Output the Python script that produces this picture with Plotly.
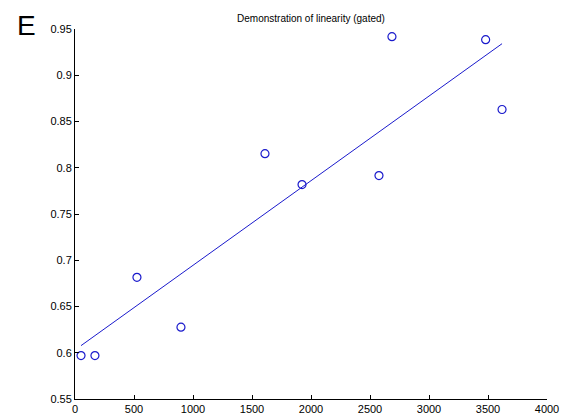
import numpy as np
import plotly.graph_objects as go

x_vals = [51, 169, 525, 898, 1610, 1924, 2576, 2686, 3480, 3619]
y_vals = [0.597, 0.597, 0.6815, 0.6276, 0.8152, 0.7818, 0.7915, 0.9417, 0.9385, 0.863]
title_text = "Demonstration of linearity (gated)"
panel_label = "E"

slope, intercept = np.polyfit(x_vals, y_vals, 1)
fit_x = [min(x_vals), max(x_vals)]
fit_y = [slope * v + intercept for v in fit_x]

BLUE = "#1a1acc"
fig = go.Figure()
fig.add_trace(go.Scatter(x=fit_x, y=fit_y, mode="lines",
                         line=dict(color=BLUE, width=1), showlegend=False))
fig.add_trace(go.Scatter(x=x_vals, y=y_vals, mode="markers",
                         marker=dict(symbol="circle-open", size=8, color=BLUE,
                                     line=dict(width=1.2, color=BLUE)),
                         showlegend=False))

axis_common = dict(showgrid=False, zeroline=False, showline=True, linecolor="black",
                   linewidth=1, ticks="inside", ticklen=4, tickcolor="black",
                   tickfont=dict(family="Arial, Liberation Sans, sans-serif", size=11, color="black"),
                   mirror=False, automargin=False)

fig.update_layout(
    width=568, height=416,
    margin=dict(l=75, r=21, t=29, b=17),
    paper_bgcolor="white", plot_bgcolor="white",
    xaxis=dict(range=[0, 4000], dtick=500, tick0=0, exponentformat="none", **axis_common),
    yaxis=dict(range=[0.55, 0.95], dtick=0.05, tick0=0.55, **axis_common),
    title=dict(text=title_text, x=311/568, xanchor="center", y=1 - 18/416, yanchor="middle",
               font=dict(family="Arial, Liberation Sans, sans-serif", size=10, color="black")),
    annotations=[dict(text=panel_label, xref="paper", yref="paper", x=-0.128, y=1.01,
                      xanchor="left", yanchor="middle", showarrow=False,
                      font=dict(family="Arial, Liberation Sans, sans-serif", size=28, color="black"))],
)

fig.write_html("out.html")
